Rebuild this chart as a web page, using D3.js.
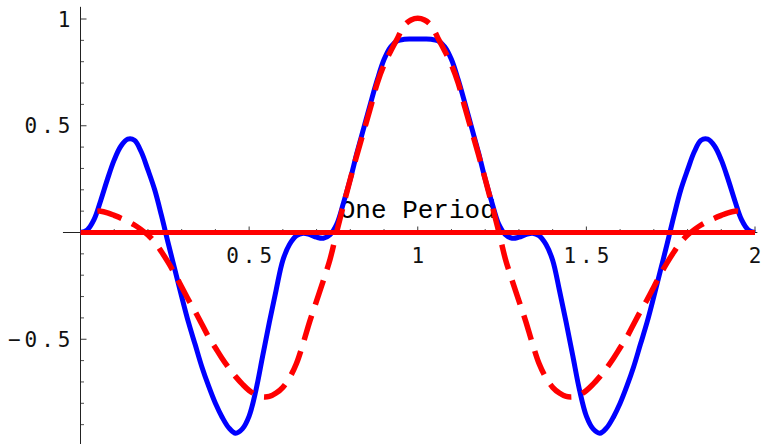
<!DOCTYPE html>
<html>
<head>
<meta charset="utf-8">
<script src="https://cdn.jsdelivr.net/npm/d3@7"></script>
<style>
  html, body { margin: 0; padding: 0; background: #fff; }
  svg { display: block; }
</style>
</head>
<body>
<svg id="chart" width="765" height="444"></svg>
<script>
// Sample positions for the solid blue series (0 to 2, step 0.02)
const blueX = [
  0.00, 0.02, 0.04, 0.06, 0.08, 0.10, 0.12, 0.14, 0.16, 0.18,
  0.20, 0.22, 0.24, 0.26, 0.28, 0.30, 0.32, 0.34, 0.36, 0.38,
  0.40, 0.42, 0.44, 0.46, 0.48, 0.50, 0.52, 0.54, 0.56, 0.58,
  0.60, 0.62, 0.64, 0.66, 0.68, 0.70, 0.72, 0.74, 0.76, 0.78,
  0.80, 0.82, 0.84, 0.86, 0.88, 0.90, 0.92, 0.94, 0.96, 0.98,
  1.00, 1.02, 1.04, 1.06, 1.08, 1.10, 1.12, 1.14, 1.16, 1.18,
  1.20, 1.22, 1.24, 1.26, 1.28, 1.30, 1.32, 1.34, 1.36, 1.38,
  1.40, 1.42, 1.44, 1.46, 1.48, 1.50, 1.52, 1.54, 1.56, 1.58,
  1.60, 1.62, 1.64, 1.66, 1.68, 1.70, 1.72, 1.74, 1.76, 1.78,
  1.80, 1.82, 1.84, 1.86, 1.88, 1.90, 1.92, 1.94, 1.96, 1.98,
  2.00
];
const blueY = [
  0.000, 0.012, 0.060, 0.150, 0.250, 0.340, 0.405, 0.437, 0.432, 0.378,
  0.293, 0.200, 0.080, -0.050, -0.175, -0.300, -0.420, -0.525, -0.630, -0.720,
  -0.800, -0.865, -0.915, -0.940, -0.920, -0.860, -0.740, -0.580, -0.420, -0.270,
  -0.130, -0.055, -0.015, -0.003, -0.010, -0.022, -0.027, -0.010, 0.040, 0.140,
  0.250, 0.375, 0.490, 0.605, 0.715, 0.810, 0.870, 0.898, 0.905, 0.906,
  0.906, 0.906, 0.905, 0.898, 0.870, 0.810, 0.715, 0.605, 0.490, 0.375,
  0.250, 0.140, 0.040, -0.010, -0.027, -0.022, -0.010, -0.003, -0.015, -0.055,
  -0.130, -0.270, -0.420, -0.580, -0.740, -0.860, -0.920, -0.940, -0.915, -0.865,
  -0.800, -0.720, -0.630, -0.525, -0.420, -0.300, -0.175, -0.050, 0.080, 0.200,
  0.293, 0.378, 0.432, 0.437, 0.405, 0.340, 0.250, 0.150, 0.060, 0.012,
  0.000
];

// Sample positions for the dashed red series
const redX = [
  0.05, 0.06, 0.08, 0.10, 0.12, 0.14, 0.16, 0.18,
  0.20, 0.22, 0.24, 0.26, 0.28, 0.30, 0.32, 0.34, 0.36, 0.38,
  0.40, 0.42, 0.44, 0.46, 0.48, 0.50, 0.52, 0.54, 0.56, 0.58,
  0.60, 0.62, 0.64, 0.66, 0.68, 0.70, 0.72, 0.74, 0.76, 0.78,
  0.80, 0.82, 0.84, 0.86, 0.88, 0.90, 0.92, 0.94, 0.96, 0.98,
  1.00, 1.02, 1.04, 1.06, 1.08, 1.10, 1.12, 1.14, 1.16, 1.18,
  1.20, 1.22, 1.24, 1.26, 1.28, 1.30, 1.32, 1.34, 1.36, 1.38,
  1.40, 1.42, 1.44, 1.46, 1.48, 1.50, 1.52, 1.54, 1.56, 1.58,
  1.60, 1.62, 1.64, 1.66, 1.68, 1.70, 1.72, 1.74, 1.76, 1.78,
  1.80, 1.82, 1.84, 1.86, 1.88, 1.90, 1.92, 1.94, 1.95
];
const redY = [
  0.100, 0.100, 0.092, 0.080, 0.067, 0.052, 0.035, 0.013,
  -0.012, -0.045, -0.090, -0.140, -0.195, -0.255, -0.315, -0.370, -0.430, -0.490,
  -0.540, -0.590, -0.635, -0.675, -0.710, -0.740, -0.760, -0.770, -0.768, -0.752,
  -0.725, -0.680, -0.615, -0.520, -0.415, -0.320, -0.225, -0.125, 0.005, 0.130,
  0.250, 0.365, 0.475, 0.585, 0.700, 0.785, 0.850, 0.910, 0.970, 0.995,
  1.003, 0.995, 0.970, 0.910, 0.850, 0.785, 0.700, 0.585, 0.475, 0.365,
  0.250, 0.130, 0.005, -0.125, -0.225, -0.320, -0.415, -0.520, -0.615, -0.680,
  -0.725, -0.752, -0.768, -0.770, -0.760, -0.740, -0.710, -0.675, -0.635, -0.590,
  -0.540, -0.490, -0.430, -0.370, -0.315, -0.255, -0.195, -0.140, -0.090, -0.045,
  -0.012, 0.013, 0.035, 0.052, 0.067, 0.080, 0.092, 0.100, 0.100
];

// Horizontal marker spanning one period
const periodX = [0, 2];
const periodY = [0, 0];
const periodLabel = "One Period";
const periodLabelAt = [1, 0.1];

// Axis ticks
const xTickValues = [0.5, 1, 1.5, 2];
const xTickLabels = ["0.5", "1", "1.5", "2"];
const yTickValues = [-0.5, 0.5, 1];
const yTickLabels = ["\u22120.5", "0.5", "1"];

const svg = d3.select("#chart");

const x = d3.scaleLinear().domain([0, 2]).range([80.5, 755]);
const y = d3.scaleLinear().domain([0, 1]).range([232.5, 19]);

const axisColor = "#222";
const tickFont = "'DejaVu Sans Mono', monospace";

// Axis lines
svg.append("line")
  .attr("x1", x(-0.052)).attr("x2", x(2.007))
  .attr("y1", y(0)).attr("y2", y(0))
  .attr("stroke", axisColor).attr("stroke-width", 1);
svg.append("line")
  .attr("x1", x(0)).attr("x2", x(0))
  .attr("y1", y(1.057)).attr("y2", 444)
  .attr("stroke", axisColor).attr("stroke-width", 1);

// Minor and major ticks (pointing into the plot)
const near = (a, b) => Math.abs(a - b) < 1e-6;
const xMinor = d3.range(1, 20).map(i => i / 10).filter(v => !xTickValues.some(t => near(t, v)));
const yMinor = d3.range(-9, 10).map(i => i / 10).filter(v => !near(v, 0) && !yTickValues.some(t => near(t, v)));

svg.append("g").selectAll("line").data(xMinor).join("line")
  .attr("x1", d => x(d)).attr("x2", d => x(d))
  .attr("y1", y(0)).attr("y2", y(0) - 3.5)
  .attr("stroke", axisColor).attr("stroke-width", 0.8);
svg.append("g").selectAll("line").data(xTickValues).join("line")
  .attr("x1", d => x(d)).attr("x2", d => x(d))
  .attr("y1", y(0)).attr("y2", y(0) - 6)
  .attr("stroke", axisColor).attr("stroke-width", 0.9);
svg.append("g").selectAll("line").data(yMinor).join("line")
  .attr("x1", x(0)).attr("x2", x(0) + 3.5)
  .attr("y1", d => y(d)).attr("y2", d => y(d))
  .attr("stroke", axisColor).attr("stroke-width", 0.8);
svg.append("g").selectAll("line").data(yTickValues).join("line")
  .attr("x1", x(0)).attr("x2", x(0) + 6)
  .attr("y1", d => y(d)).attr("y2", d => y(d))
  .attr("stroke", axisColor).attr("stroke-width", 0.9);

// Tick labels
svg.append("g").selectAll("text").data(xTickValues).join("text")
  .attr("x", d => x(d) + 2)
  .attr("y", y(0) + 30.5)
  .attr("text-anchor", "middle")
  .attr("font-family", tickFont)
  .attr("font-size", 21)
  .attr("letter-spacing", 4)
  .attr("fill", "#111")
  .text((d, i) => xTickLabels[i]);
svg.append("g").selectAll("text").data(yTickValues).join("text")
  .attr("x", x(0) - 6)
  .attr("y", d => y(d))
  .attr("dy", "0.36em")
  .attr("text-anchor", "end")
  .attr("font-family", tickFont)
  .attr("font-size", 21)
  .attr("letter-spacing", 4)
  .attr("fill", "#111")
  .text((d, i) => yTickLabels[i]);

// Label of the period marker
svg.append("text")
  .attr("x", x(periodLabelAt[0]))
  .attr("y", y(periodLabelAt[1]))
  .attr("dy", "0.25em")
  .attr("text-anchor", "middle")
  .attr("font-family", "'Liberation Mono', 'Courier New', monospace")
  .attr("font-size", 26)
  .attr("fill", "#000")
  .text(periodLabel);

const line = d3.line()
  .x(d => x(d[0]))
  .y(d => y(d[1]))
  .curve(d3.curveCatmullRom.alpha(0.5));

// Solid blue curve
svg.append("path")
  .datum(blueX.map((v, i) => [v, blueY[i]]))
  .attr("d", line)
  .attr("fill", "none")
  .attr("stroke", "#0000ff")
  .attr("stroke-width", 5)
  .attr("stroke-linejoin", "round");

// Dashed red curve; dash period tuned so a dash sits centred on the midpoint
const redPath = svg.append("path")
  .datum(redX.map((v, i) => [v, redY[i]]))
  .attr("d", line)
  .attr("fill", "none")
  .attr("stroke", "#ff0000")
  .attr("stroke-width", 5.5);
const total = redPath.node().getTotalLength();
const half = total / 2;
const nominalDash = 26, nominalGap = 12;
const firstCentreStart = half - nominalDash / 2;
const n = Math.max(1, Math.round(firstCentreStart / (nominalDash + nominalGap)));
const period = firstCentreStart / n;
const dash = period * nominalDash / (nominalDash + nominalGap);
redPath.attr("stroke-dasharray", `${dash} ${period - dash}`);

// Solid red period marker along y = 0
svg.append("path")
  .datum(periodX.map((v, i) => [v, periodY[i]]))
  .attr("d", d3.line().x(d => x(d[0])).y(d => y(d[1])))
  .attr("fill", "none")
  .attr("stroke", "#ff0000")
  .attr("stroke-width", 5);
</script>
</body>
</html>
